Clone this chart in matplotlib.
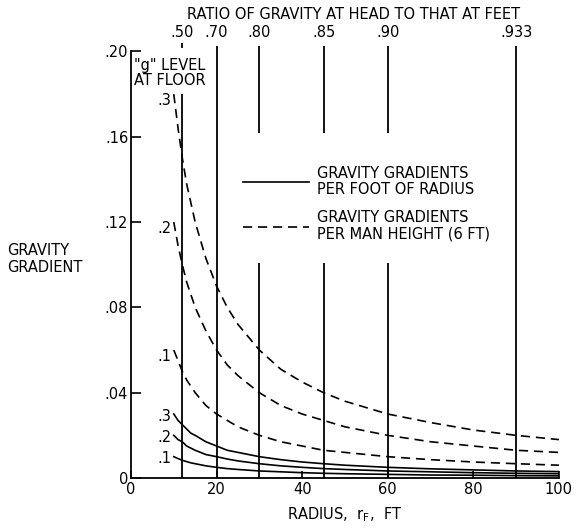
import matplotlib
matplotlib.use("Agg")
import matplotlib.pyplot as plt
from matplotlib.lines import Line2D

plt.rcParams["font.family"] = ["DejaVu Sans"]

# Radius of the floor, ft
radius = [10, 11, 12, 13, 14, 15, 17.5, 20, 22.5, 25, 30, 35, 40, 45, 50, 60, 70, 80, 90, 100]

# Gravity gradient per man height (6 ft), for floor g levels .1/.2/.3
per_man_03 = [0.180, 0.164, 0.150, 0.138, 0.129, 0.120, 0.103, 0.090, 0.080, 0.072,
              0.060, 0.051, 0.045, 0.040, 0.036, 0.030, 0.026, 0.0225, 0.020, 0.018]
per_man_02 = [0.120, 0.109, 0.100, 0.092, 0.086, 0.080, 0.069, 0.060, 0.053, 0.048,
              0.040, 0.034, 0.030, 0.027, 0.024, 0.020, 0.017, 0.015, 0.013, 0.012]
per_man_01 = [0.060, 0.055, 0.050, 0.046, 0.043, 0.040, 0.034, 0.030, 0.027, 0.024,
              0.020, 0.017, 0.015, 0.013, 0.012, 0.010, 0.0086, 0.0075, 0.0067, 0.006]

# Gravity gradient per foot of radius
per_ft_03 = [0.030, 0.027, 0.025, 0.023, 0.021, 0.020, 0.017, 0.015, 0.013, 0.012,
             0.010, 0.0086, 0.0075, 0.0067, 0.006, 0.005, 0.0043, 0.0038, 0.0033, 0.003]
per_ft_02 = [0.020, 0.018, 0.017, 0.015, 0.014, 0.013, 0.011, 0.010, 0.0089, 0.008,
             0.0067, 0.0057, 0.005, 0.0044, 0.004, 0.0033, 0.0029, 0.0025, 0.0022, 0.002]
per_ft_01 = [0.010, 0.0091, 0.0083, 0.0077, 0.0071, 0.0067, 0.0057, 0.005, 0.0044, 0.004,
             0.0033, 0.0029, 0.0025, 0.0022, 0.002, 0.0017, 0.0014, 0.0013, 0.0011, 0.001]

g_labels = [".3", ".2", ".1"]

# Head-to-feet gravity ratio markers along the radius axis
ratio_radius = [12, 20, 30, 45, 60, 90]
ratio_labels = [".50", ".70", ".80", ".85", ".90", ".933"]

y_ticks = [0, 0.04, 0.08, 0.12, 0.16, 0.20]
y_tick_labels = ["0", ".04", ".08", ".12", ".16", ".20"]
x_ticks = [0, 20, 40, 60, 80, 100]

FS = 10.5
LS = 1.05
fig = plt.figure(figsize=(5.78, 5.28), dpi=100)
ax = fig.add_axes([0.2266, 0.0947, 0.7404, 0.8078])
ax.set_xlim(0, 100)
ax.set_ylim(0, 0.20)

dash = (0, (5.5, 3.5))
lw = 1.2
for series, lab in zip([per_man_03, per_man_02, per_man_01], g_labels):
    ax.plot(radius, series, color="black", lw=lw, linestyle=dash)
    ax.text(radius[0] - 0.6, series[0] - 0.003, lab, ha="right", va="center", fontsize=FS)
for series, lab in zip([per_ft_03, per_ft_02, per_ft_01], g_labels):
    ax.plot(radius, series, color="black", lw=lw)
    ax.text(radius[0] - 0.6, series[0] - 0.001, lab, ha="right", va="center", fontsize=FS)

# Vertical ratio lines, broken where the legend sits
vkw = dict(color="black", lw=1.3, clip_on=False)
top = 0.2025
for r in ratio_radius:
    if r == 12:
        ax.vlines(r, 0, 0.180, **vkw)
        ax.vlines(r, 0.2015, 0.204, **vkw)
    elif r in (30, 45, 60):
        ax.vlines(r, 0, 0.101, **vkw)
        ax.vlines(r, 0.162, top, **vkw)
    else:
        ax.vlines(r, 0, top, **vkw)

# Axes styling
for s in ("top", "right"):
    ax.spines[s].set_visible(False)
ax.spines["left"].set_linewidth(1.3)
ax.spines["bottom"].set_linewidth(1.3)
ax.set_xticks(x_ticks)
ax.set_xticklabels([str(t) for t in x_ticks], fontsize=FS)
ax.set_yticks(y_ticks)
ax.set_yticklabels(y_tick_labels, fontsize=FS)
ax.tick_params(axis="both", direction="in", length=7, width=1.2, pad=2)
ax.tick_params(axis="x", length=5, pad=3)

top_ax = ax.secondary_xaxis("top")
top_ax.set_xticks(ratio_radius)
top_ax.set_xticklabels(ratio_labels, fontsize=FS)
top_ax.tick_params(length=0, pad=8)
top_ax.spines["top"].set_visible(False)

fig.text(0.612, 0.972, "RATIO OF GRAVITY AT HEAD TO THAT AT FEET", ha="center", va="center", fontsize=FS)
ax.text(0.6, 0.197, "\"g\" LEVEL\nAT FLOOR", ha="left", va="top", fontsize=FS, linespacing=LS)

fig.text(0.012, 0.51, "GRAVITY\nGRADIENT", ha="left", va="center", fontsize=FS, linespacing=1.2)
ax.set_xlabel(r"RADIUS,  $\mathregular{r_F}$,  FT", fontsize=FS, labelpad=6)

handles = [Line2D([], [], color="black", lw=lw),
           Line2D([], [], color="black", lw=lw, linestyle=dash)]
labels = ["GRAVITY GRADIENTS\nPER FOOT OF RADIUS",
          "GRAVITY GRADIENTS\nPER MAN HEIGHT (6 FT)"]
leg = ax.legend(handles, labels, loc="upper left", bbox_to_anchor=(243 / 578, 1 - 166 / 528),
                bbox_transform=fig.transFigure, frameon=False, fontsize=FS,
                handlelength=4.5, handletextpad=0.6, labelspacing=0.95,
                borderpad=0, borderaxespad=0)
for t in leg.get_texts():
    t.set_linespacing(LS)

fig.savefig("out.png", dpi=100)
